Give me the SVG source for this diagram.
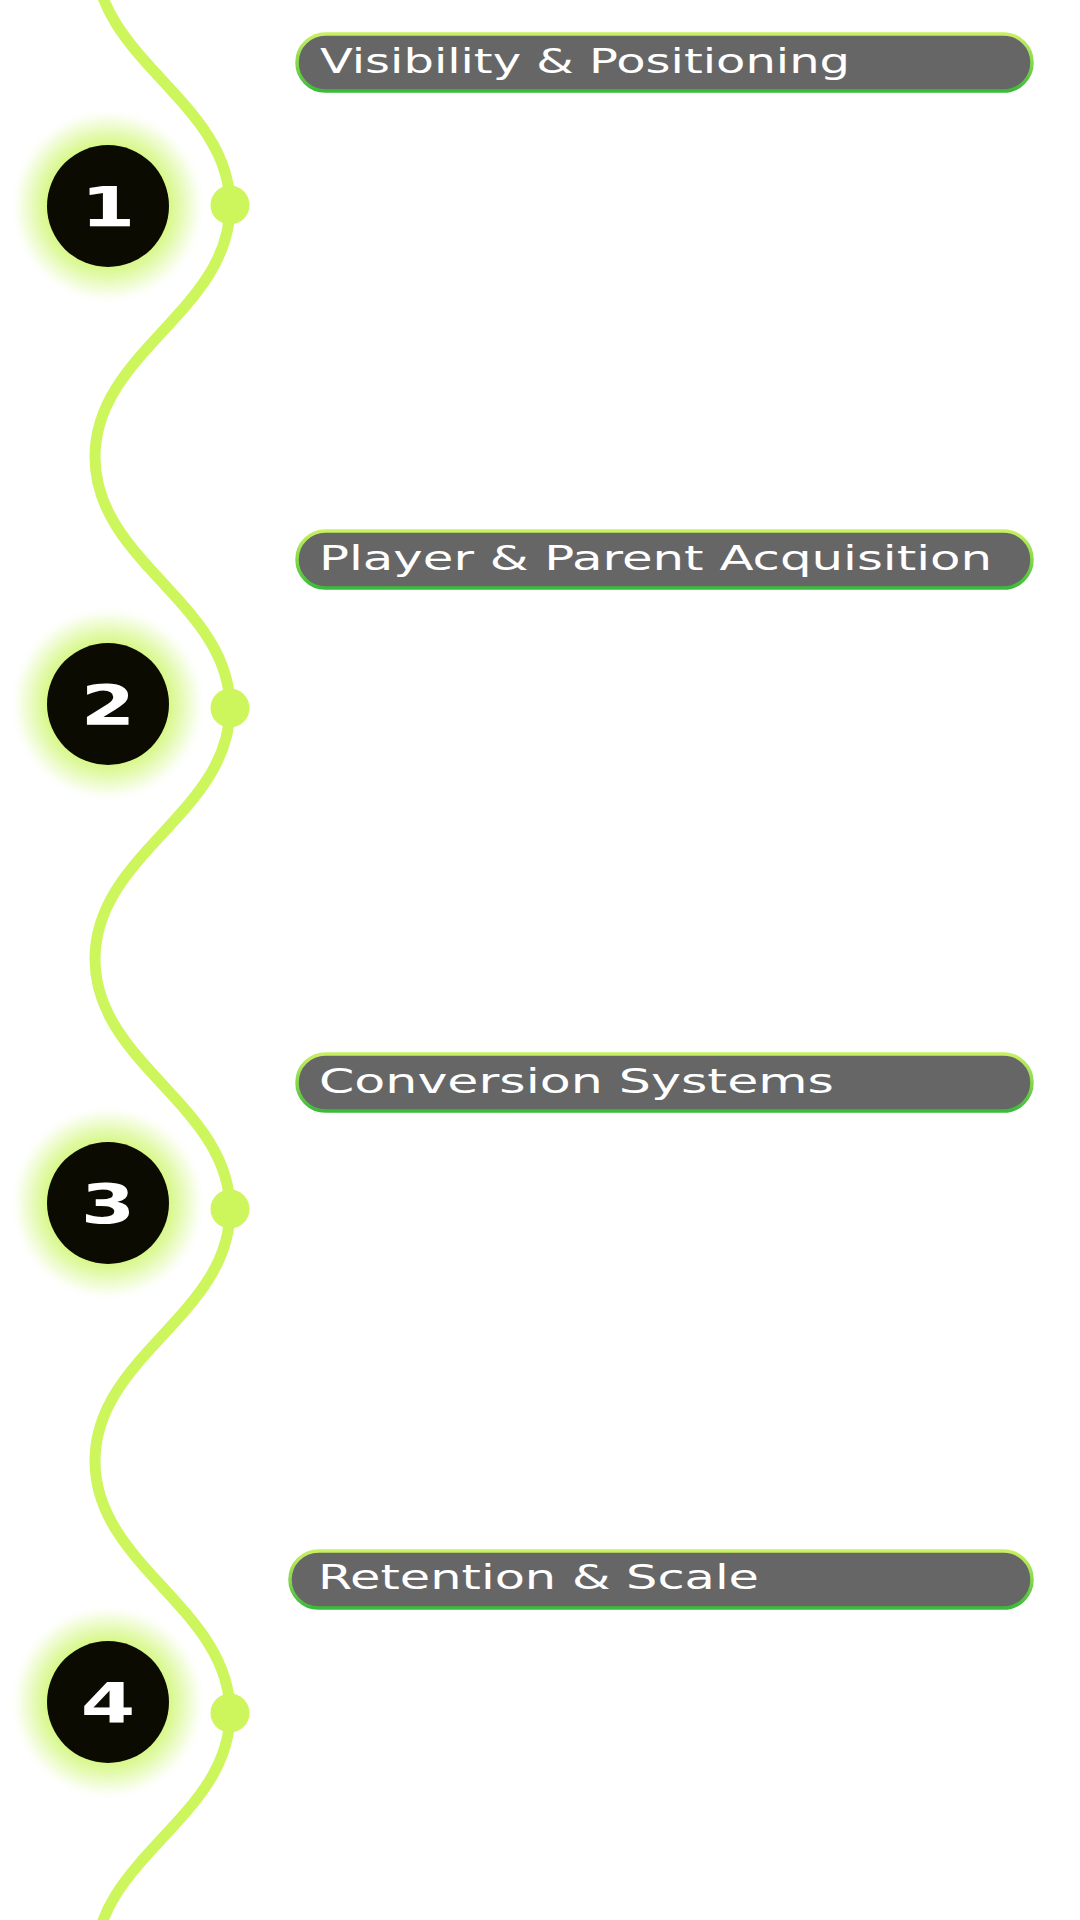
<svg xmlns="http://www.w3.org/2000/svg" width="1080" height="1920" viewBox="0 0 1080 1920">
  <defs>
    <radialGradient id="glow" cx="0.5" cy="0.5" r="0.5">
      <stop offset="0" stop-color="#cdf56a" stop-opacity="1"/>
      <stop offset="0.6" stop-color="#d0f672" stop-opacity="0.9"/>
      <stop offset="0.74" stop-color="#d8f88e" stop-opacity="0.7"/>
      <stop offset="0.87" stop-color="#e6fab8" stop-opacity="0.45"/>
      <stop offset="0.96" stop-color="#f4fde2" stop-opacity="0.15"/>
      <stop offset="1" stop-color="#ffffff" stop-opacity="0"/>
    </radialGradient>
    <linearGradient id="pillStroke" x1="0" y1="0" x2="0" y2="1">
      <stop offset="0" stop-color="#c8f060"/>
      <stop offset="0.5" stop-color="#86d84c"/>
      <stop offset="1" stop-color="#38bb38"/>
    </linearGradient>
    <style>
      .glow { fill: url(#glow); }
      .disc { fill: #0b0b02; }
      .num { font-family: "DejaVu Sans", "Liberation Sans", sans-serif; font-weight: 900; font-size: 56px; fill: #ffffff; text-anchor: middle; }
      .pill { fill: #666666; stroke: url(#pillStroke); stroke-width: 3.5; }
      .label { font-family: "DejaVu Sans", "Liberation Sans", sans-serif; font-size: 34px; fill: #ffffff; }
      .wave { fill: none; stroke: #cdf55c; stroke-width: 11; stroke-linecap: round; }
      .dot { fill: #cdf55c; }
    </style>
  </defs>
  <rect width="1080" height="1920" fill="#ffffff"/>

  <g id="connectors">
    <path class="wave" d="M95,-45 C95,60 230,101 230,206 C230,311 95,352 95,457 C95,562 230,603 230,708 C230,813 95,854 95,959 C95,1064 230,1105 230,1210 C230,1315 95,1356 95,1461 C95,1566 230,1608 230,1713 C230,1818 95,1858 95,1963"/>
    <circle class="dot" cx="230" cy="205" r="19.5"/>
    <circle class="dot" cx="230" cy="708" r="19.5"/>
    <circle class="dot" cx="230" cy="1209" r="19.5"/>
    <circle class="dot" cx="230" cy="1713" r="19.5"/>
  </g>

  <g id="step1">
    <circle class="glow" cx="108" cy="206" r="98"/>
    <circle class="disc" cx="108" cy="206" r="61"/>
    <text class="num" transform="translate(108,226) scale(1.4,1)" x="0" y="0">1</text>
  </g>
  <g id="step2">
    <circle class="glow" cx="108" cy="704" r="98"/>
    <circle class="disc" cx="108" cy="704" r="61"/>
    <text class="num" transform="translate(108,724) scale(1.4,1)" x="0" y="0">2</text>
  </g>
  <g id="step3">
    <circle class="glow" cx="108" cy="1203" r="98"/>
    <circle class="disc" cx="108" cy="1203" r="61"/>
    <text class="num" transform="translate(108,1223) scale(1.4,1)" x="0" y="0">3</text>
  </g>
  <g id="step4">
    <circle class="glow" cx="108" cy="1702" r="98"/>
    <circle class="disc" cx="108" cy="1702" r="61"/>
    <text class="num" transform="translate(108,1722) scale(1.4,1)" x="0" y="0">4</text>
  </g>

  <g id="label1">
    <rect class="pill" x="297" y="34" width="735" height="57" rx="28.5"/>
    <text class="label" x="320" y="73" textLength="530" lengthAdjust="spacingAndGlyphs">Visibility &amp; Positioning</text>
  </g>
  <g id="label2">
    <rect class="pill" x="297" y="531" width="735" height="57" rx="28.5"/>
    <text class="label" x="319" y="570" textLength="673" lengthAdjust="spacingAndGlyphs">Player &amp; Parent Acquisition</text>
  </g>
  <g id="label3">
    <rect class="pill" x="297" y="1054" width="735" height="57" rx="28.5"/>
    <text class="label" x="319" y="1093" textLength="515" lengthAdjust="spacingAndGlyphs">Conversion Systems</text>
  </g>
  <g id="label4">
    <rect class="pill" x="290" y="1551" width="742" height="57" rx="28.5"/>
    <text class="label" x="318" y="1589" textLength="441" lengthAdjust="spacingAndGlyphs">Retention &amp; Scale</text>
  </g>
</svg>
